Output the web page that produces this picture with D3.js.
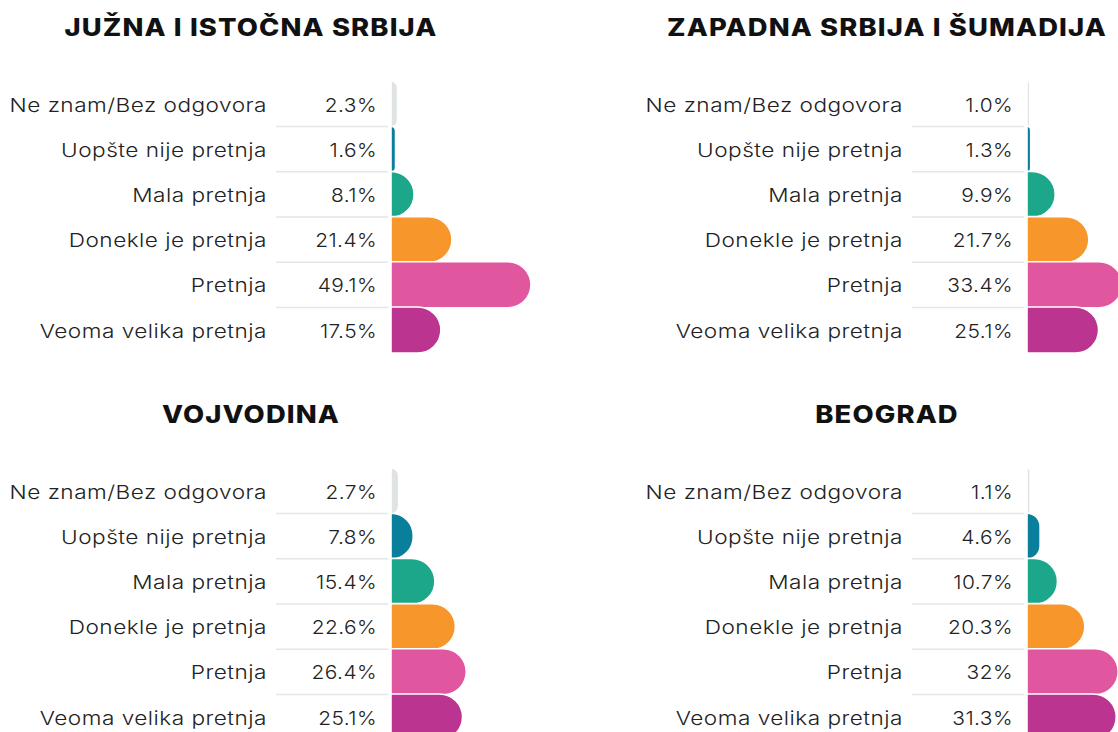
<!DOCTYPE html>
<html>
<head>
<meta charset="utf-8">
<script src="https://cdn.jsdelivr.net/npm/d3@7"></script>
<style>
  html, body { margin: 0; padding: 0; background: #ffffff; overflow: hidden; }
  svg { display: block; }
  .title { font-family: Inter, "Noto Sans", sans-serif; font-weight: 800; font-size: 24px; fill: #111111; letter-spacing: 1px; }
  .cat { font-family: Inter, "Noto Sans", sans-serif; font-weight: 300; font-size: 19px; fill: #222222; letter-spacing: 0.4px; }
  .val { font-family: Inter, "Noto Sans", sans-serif; font-weight: 300; font-size: 19px; fill: #222222; letter-spacing: 0.4px; }
</style>
</head>
<body>
<svg id="chart" width="1118" height="732"></svg>
<script>
// Answer categories, top to bottom
const categories = [
  "Ne znam/Bez odgovora",
  "Uopšte nije pretnja",
  "Mala pretnja",
  "Donekle je pretnja",
  "Pretnja",
  "Veoma velika pretnja"
];

// Region names (panel titles)
const regions = [
  "JUŽNA I ISTOČNA SRBIJA",
  "ZAPADNA SRBIJA I ŠUMADIJA",
  "VOJVODINA",
  "BEOGRAD"
];

// Shares per region, in percent (kept as printed)
const juznaIIstocna = ["2.3", "1.6", "8.1", "21.4", "49.1", "17.5"];
const zapadnaISumadija = ["1.0", "1.3", "9.9", "21.7", "33.4", "25.1"];
const vojvodina = ["2.7", "7.8", "15.4", "22.6", "26.4", "25.1"];
const beograd = ["1.1", "4.6", "10.7", "20.3", "32", "31.3"];

// One colour per category
const colors = ["#dfe3e4", "#0a7f9b", "#1ca78a", "#f7962a", "#e1579f", "#bb3490"];

const seriesByRegion = [juznaIIstocna, zapadnaISumadija, vojvodina, beograd];

const svg = d3.select("#chart");

// Layout of the 2 x 2 grid
const panelOffsetX = [0, 636, 0, 636];
const panelOffsetY = [0, 0, 387, 387];
const titleCenterX = 251;
const titleY = 36;
const firstRowY = 104;
const rowStep = 45.2;
const labelRightX = 267;
const valueRightX = 377;
const ruleX0 = 276, ruleX1 = 388;
const barX = 391;
const barHalf = 23;

// horizontal widening of the type, giving a wide geometric look
const titleStretch = 1.14;
const catStretch = 1.19;
const valStretch = 1.1;

const maxVal = d3.max(seriesByRegion.flat(), d => +d);
const x = d3.scaleLinear().domain([0, maxVal]).range([0, 140]);

const y = d3.scalePoint()
  .domain(categories)
  .range([firstRowY, firstRowY + rowStep * (categories.length - 1)]);

const color = d3.scaleOrdinal().domain(categories).range(colors);

// Bar with a square left edge and rounded right end
function barPath(x0, w, yc, half) {
  const x1 = x0 + w;
  const y0 = yc - half, y1 = yc + half;
  const r = Math.min(half, w);
  const p = d3.path();
  p.moveTo(x0, y0);
  p.lineTo(x1 - r, y0);
  p.arcTo(x1, y0, x1, y0 + r, r);
  p.lineTo(x1, y1 - r);
  p.arcTo(x1, y1, x1 - r, y1, r);
  p.lineTo(x0, y1);
  p.closePath();
  return p.toString();
}

regions.forEach((name, i) => {
  const g = svg.append("g")
    .attr("transform", `translate(${panelOffsetX[i]},${panelOffsetY[i]})`);

  const rows = categories.map((c, k) => ({ cat: c, label: seriesByRegion[i][k], value: +seriesByRegion[i][k] }));

  g.append("text")
    .attr("class", "title")
    .attr("transform", `translate(${titleCenterX},${titleY}) scale(${titleStretch},1)`)
    .attr("text-anchor", "middle")
    .text(name);

  // thin rules between rows, under the value column
  g.selectAll("line.rule")
    .data(categories.slice(0, -1))
    .join("line")
    .attr("class", "rule")
    .attr("x1", ruleX0)
    .attr("x2", ruleX1)
    .attr("y1", d => y(d) + rowStep / 2)
    .attr("y2", d => y(d) + rowStep / 2)
    .attr("stroke", "#e3e5e6")
    .attr("stroke-width", 1.5);

  g.selectAll("text.cat")
    .data(rows)
    .join("text")
    .attr("class", "cat")
    .attr("transform", d => `translate(${labelRightX},${y(d.cat)}) scale(${catStretch},1)`)
    .attr("dy", "0.4em")
    .attr("text-anchor", "end")
    .text(d => d.cat);

  g.selectAll("text.val")
    .data(rows)
    .join("text")
    .attr("class", "val")
    .attr("transform", d => `translate(${valueRightX},${y(d.cat)}) scale(${valStretch},1)`)
    .attr("dy", "0.4em")
    .attr("text-anchor", "end")
    .text(d => d.label + "%");

  g.selectAll("path.bar")
    .data(rows)
    .join("path")
    .attr("class", "bar")
    .attr("d", d => barPath(barX, x(d.value), y(d.cat), barHalf))
    .attr("fill", d => color(d.cat))
    .attr("stroke", "#ffffff")
    .attr("stroke-width", 1.6);
});
</script>
</body>
</html>
